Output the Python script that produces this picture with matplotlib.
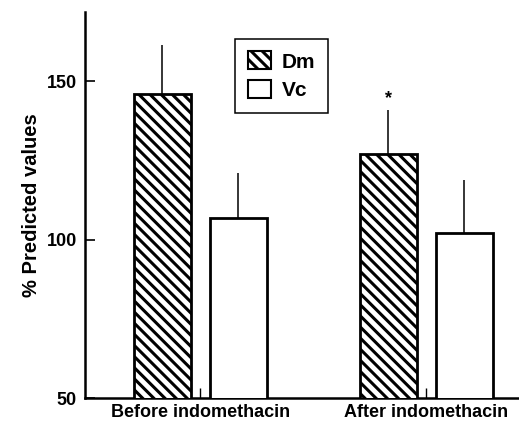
import matplotlib
matplotlib.use("Agg")
import matplotlib.pyplot as plt
import numpy as np

# data
groups = ['Before indomethacin', 'After indomethacin']
dm = [146, 127]
dm_sd = [15.5, 14]
vc = [107, 102]
vc_sd = [14, 17]

plt.rcParams['font.family'] = ['Liberation Sans', 'DejaVu Sans']
plt.rcParams['font.weight'] = 'bold'
plt.rcParams['hatch.linewidth'] = 2.2

fig = plt.figure(figsize=(5.19, 4.23), dpi=100)
ax = fig.add_axes([0.164, 0.059, 0.836, 0.913])

x = np.arange(len(groups))
w = 0.252
off = 0.168

b1 = ax.bar(x - off, dm, w, color='white', edgecolor='black',
            linewidth=2.0, hatch='\\\\\\', label='Dm', zorder=3)
b2 = ax.bar(x + off, vc, w, color='white', edgecolor='black',
            linewidth=2.0, label='Vc', zorder=3)

# upper error bars only
ax.errorbar(x - off, dm, yerr=[np.zeros(2), dm_sd], fmt='none',
            ecolor='black', elinewidth=1.1, capsize=0, zorder=2)
ax.errorbar(x + off, vc, yerr=[np.zeros(2), vc_sd], fmt='none',
            ecolor='black', elinewidth=1.1, capsize=0, zorder=2)

ax.text(1 - off, dm[1] + dm_sd[1] + 1.0, '*', ha='center', va='bottom',
        fontsize=13, fontweight='bold')

ax.set_xlim(-0.509, 1.41)
ax.set_ylim(50, 172)
ax.set_yticks([50, 100, 150])
ax.set_xticks(x)
ax.set_xticklabels(groups)
ax.tick_params(axis='y', direction='in', length=7, width=1.2,
               labelsize=13, pad=6)
ax.tick_params(axis='x', direction='in', length=7.5, width=1.0,
               labelsize=13, pad=4)

ax.spines['top'].set_visible(False)
ax.spines['right'].set_visible(False)
ax.spines['left'].set_linewidth(1.8)
ax.spines['bottom'].set_linewidth(1.8)

ax.set_ylabel('% Predicted values', fontsize=14.5, fontweight='bold',
              labelpad=4)

leg = ax.legend(loc='upper left', bbox_to_anchor=(0.346, 0.93),
                prop={'size': 15, 'weight': 'bold'}, fancybox=False,
                edgecolor='black', framealpha=1, handlelength=1.1,
                handleheight=0.95, handletextpad=0.55, borderpad=0.6,
                labelspacing=0.4, borderaxespad=0)
leg.get_frame().set_linewidth(1.1)
for h in leg.legend_handles:
    h.set_linewidth(1.5)

fig.savefig('out.png', dpi=100)
